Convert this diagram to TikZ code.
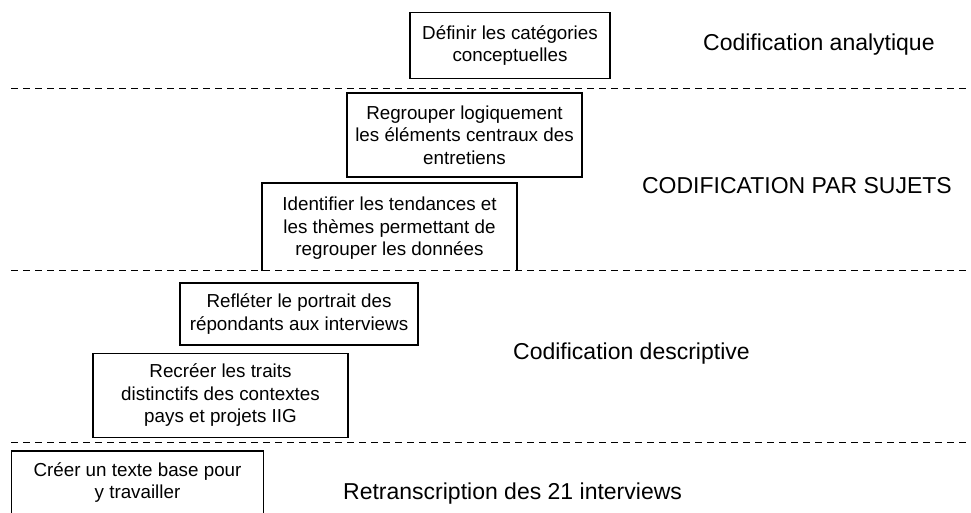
\documentclass[tikz,border=0pt]{standalone}
\usepackage{fontspec}
\setmainfont{Liberation Sans}
\begin{document}
\begin{tikzpicture}[x=1pt,y=-1pt,
  stepbox/.style={draw=black, line width=1.3pt, align=center, inner sep=0pt,
    font=\fontsize{18.8}{22.5}\selectfont},
  boxedge/.style={draw=black, line width=1.3pt},
  levellabel/.style={inner sep=0pt, font=\fontsize{23}{27}\selectfont},
  separator/.style={draw=black, line width=1.4pt, dash pattern=on 7pt off 5pt}]
  \path[use as bounding box, clip] (0,0) rectangle (971,512);
  \fill[white] (0,0) rectangle (971,512);

  % steps
  \node[stepbox, minimum width=200pt, minimum height=66pt] (b1) at (510,45.5)
    {Définir les catégories\\conceptuelles};
  \node[stepbox, minimum width=235pt, minimum height=84pt] (b2) at (464.5,135)
    {Regrouper logiquement\\les éléments centraux des\\entretiens};
  % this box runs down to the separator; its last line is cut off
  \begin{scope}
    \clip (262,183) rectangle (517,258.5);
    \node[stepbox, draw=none, minimum width=255pt, minimum height=88pt] (b3) at (389.5,228.5)
      {Identifier les tendances et\\les thèmes permettant de\\regrouper les données};
  \end{scope}
  \coordinate (b3sw) at (262,270.5);
  \coordinate (b3nw) at (262,183);
  \coordinate (b3ne) at (517,183);
  \coordinate (b3se) at (517,270.5);
  \draw[boxedge] (b3sw) -- (b3nw) -- (b3ne) -- (b3se);
  \node[stepbox, minimum width=238pt, minimum height=62pt] (b4) at (299,314)
    {Refléter le portrait des\\répondants aux interviews};
  \node[stepbox, minimum width=255pt, minimum height=84pt] (b5) at (220.5,395.5)
    {Recréer les traits\\distinctifs des contextes\\pays et projets IIG};
  % this box continues past the lower edge
  \node[stepbox, draw=none, minimum width=251pt, minimum height=62pt] (b6) at (137.5,482.5)
    {Créer un texte base pour\\y travailler};
  \coordinate (b6sw) at ([yshift=-30pt]b6.south west);
  \coordinate (b6se) at ([yshift=-30pt]b6.south east);
  \draw[boxedge] (b6sw) -- (b6.north west) -- (b6.north east) -- (b6se);

  % level separators
  \coordinate (s1a) at (11,88.5);  \coordinate (s1b) at (968,88.5);
  \coordinate (s2a) at (11,270.5); \coordinate (s2b) at (968,270.5);
  \coordinate (s3a) at (11,442.5); \coordinate (s3b) at (968,442.5);
  \draw[separator] (s1a) -- (s1b);
  \draw[separator] (s2a) -- (s2b);
  \draw[separator] (s3a) -- (s3b);

  % level names
  \node[levellabel, anchor=west] (l1) at (703,45) {Codification analytique};
  \node[levellabel, anchor=east] (l2) at (952,186) {CODIFICATION PAR SUJETS};
  \node[levellabel, anchor=west] (l3) at (513,354) {Codification descriptive};
  \node[levellabel, anchor=west] (l4) at (343,494) {Retranscription des 21 interviews};
\end{tikzpicture}
\end{document}
